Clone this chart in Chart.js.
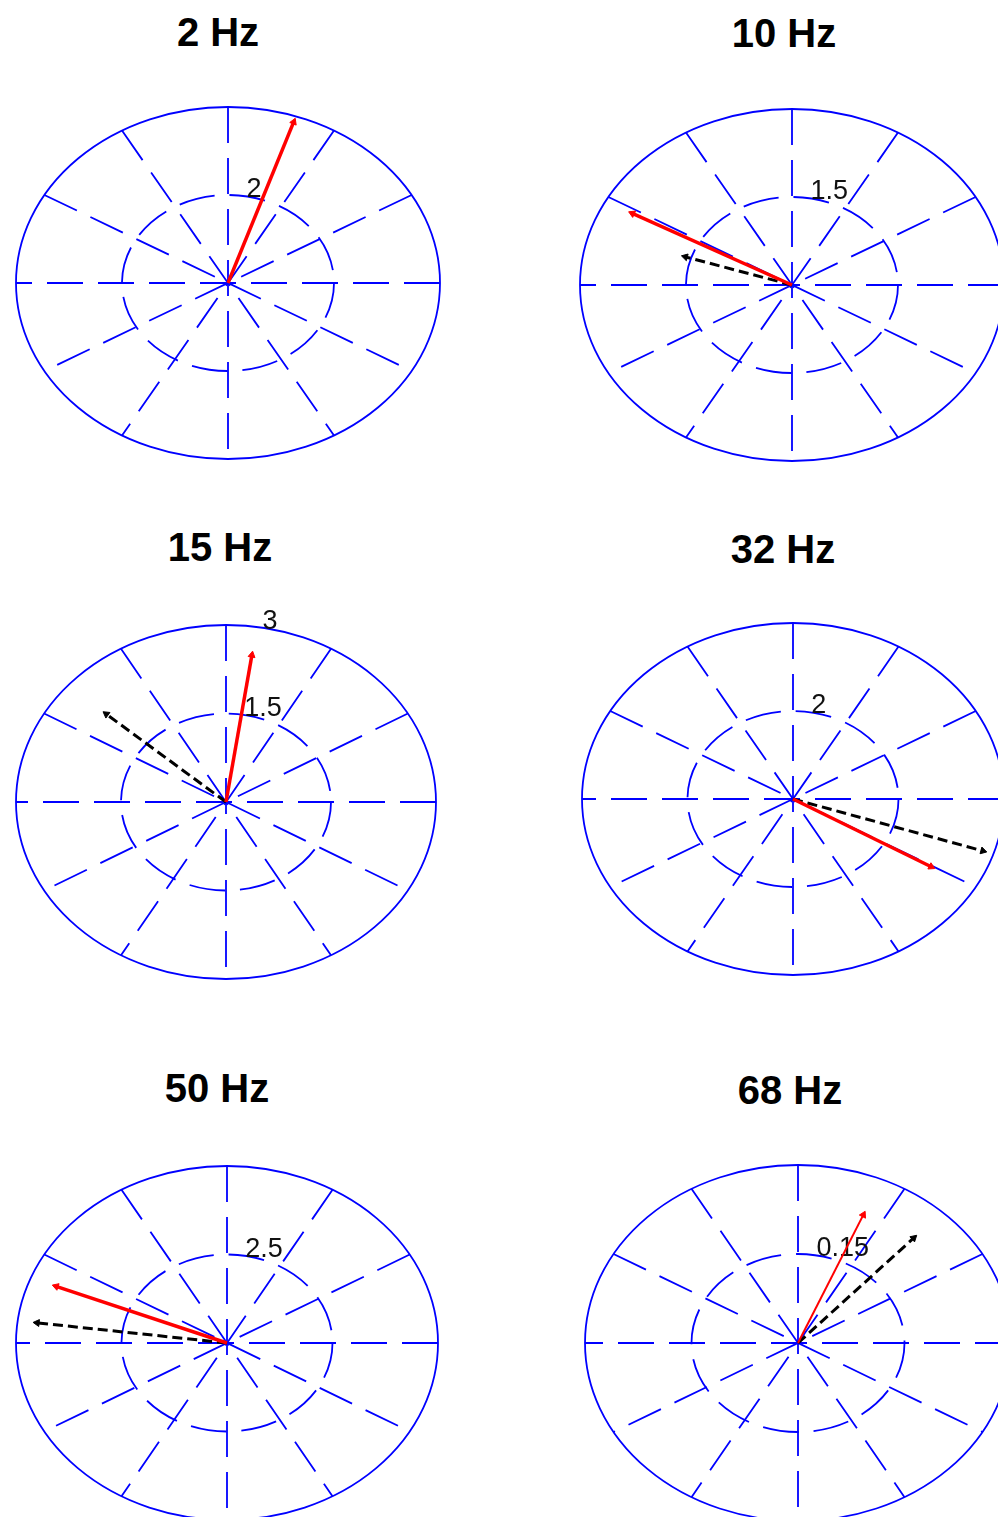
<!DOCTYPE html>
<html>
<head>
<meta charset="utf-8">
<script src="https://cdn.jsdelivr.net/npm/chart.js@4/dist/chart.umd.min.js"></script>
<style>
  html, body { margin: 0; padding: 0; background: #fff; }
  body { position: relative; width: 998px; height: 1517px; overflow: hidden; }
  canvas { position: absolute; }
  .title {
    position: absolute;
    font: bold 40px "Liberation Sans", Arial, sans-serif;
    color: #000;
    transform: translate(-50%, -50%);
    white-space: nowrap;
  }
</style>
</head>
<body>
<script>
// panel data
const titles = ['2 Hz', '10 Hz', '15 Hz', '32 Hz', '50 Hz', '68 Hz'];
const rMax = [4, 3, 3, 4, 5, 0.3];
const ringLabels = [[2], [1.5], [1.5, 3], [2], [2.5], [0.15]];
// solid red vectors (u = east, v = north)
const redU = [1.24, -2.26, 0.37, 2.62, -4.05, 0.092];
const redV = [3.66, 1.22, 2.49, -1.54, 1.60, 0.216];
// dashed black vectors
const blackU = [null, -1.51, -1.71, 3.60, -4.50, 0.163];
const blackV = [null, 0.48, 1.49, -1.18, 0.57, 0.177];

// layout of each panel on the page (pixels)
const panelCx = [228, 792, 226, 793, 227, 798];
const panelCy = [283, 285, 802, 799, 1343, 1343];
const panelRx = [212, 212, 210, 211, 211, 213];
const panelRy = [176, 176, 177, 176, 177, 178];
const titleX = [218, 784, 220, 783, 217, 790];
const titleY = [32, 33, 547, 549, 1088, 1090];

const HALF_W = 235, HALF_H = 200;
const BLUE = '#0000ff';

// polar grid drawn through the chart's own scales
const compassGrid = {
  id: 'compassGrid',
  beforeDatasetsDraw(chart, args, opts) {
    const { ctx } = chart;
    const xs = chart.scales.x, ys = chart.scales.y;
    const R = opts.rmax;
    const cx = xs.getPixelForValue(0), cy = ys.getPixelForValue(0);
    const ex = r => xs.getPixelForValue(r) - cx;
    const ey = r => cy - ys.getPixelForValue(r);

    ctx.save();
    ctx.strokeStyle = BLUE;
    ctx.lineWidth = 1.8;

    // outer ring, solid
    ctx.setLineDash([]);
    ctx.beginPath();
    ctx.ellipse(cx, cy, ex(R), ey(R), 0, 0, Math.PI * 2);
    ctx.stroke();

    // inner ring, dashed
    ctx.setLineDash([36, 15]);
    ctx.beginPath();
    ctx.ellipse(cx, cy, ex(R / 2), ey(R / 2), 0, 0, Math.PI * 2);
    ctx.stroke();

    // spokes every 30 degrees
    for (let k = 0; k < 6; k++) {
      const a = k * Math.PI / 6;
      const x1 = xs.getPixelForValue(R * Math.cos(a)), y1 = ys.getPixelForValue(R * Math.sin(a));
      const x2 = xs.getPixelForValue(-R * Math.cos(a)), y2 = ys.getPixelForValue(-R * Math.sin(a));
      ctx.beginPath();
      ctx.moveTo(x1, y1);
      ctx.lineTo(x2, y2);
      ctx.stroke();
    }

    // ring labels
    ctx.setLineDash([]);
    ctx.fillStyle = '#111';
    ctx.font = '27px "Liberation Sans", Arial, sans-serif';
    ctx.textAlign = 'left';
    ctx.textBaseline = 'alphabetic';
    const la = 80 * Math.PI / 180;
    opts.labels.forEach(r => {
      ctx.fillText(String(r), xs.getPixelForValue(r * Math.cos(la)), ys.getPixelForValue(r * Math.sin(la)) + 1);
    });
    ctx.restore();
  }
};

function headRotation(c) {
  const chart = c.chart;
  const xs = chart.scales.x, ys = chart.scales.y;
  if (!xs || !ys) return 0;
  const d = c.dataset.data[1];
  const dx = xs.getPixelForValue(d.x) - xs.getPixelForValue(0);
  const dy = ys.getPixelForValue(d.y) - ys.getPixelForValue(0);
  return Math.atan2(dx, -dy) * 180 / Math.PI;
}

function vector(u, v, color, width, dash) {
  return {
    data: [{ x: 0, y: 0 }, { x: u, y: v }],
    showLine: true,
    borderColor: color,
    borderWidth: width,
    borderDash: dash,
    pointRadius: [0, 4],
    pointStyle: 'triangle',
    pointRotation: headRotation,
    pointBackgroundColor: color,
    pointBorderColor: color,
    pointBorderWidth: 1,
    clip: false
  };
}

titles.forEach((t, i) => {
  const title = document.createElement('div');
  title.className = 'title';
  title.textContent = t;
  title.style.left = titleX[i] + 'px';
  title.style.top = titleY[i] + 'px';
  document.body.appendChild(title);

  const canvas = document.createElement('canvas');
  canvas.width = HALF_W * 2;
  canvas.height = HALF_H * 2;
  canvas.style.left = (panelCx[i] - HALF_W) + 'px';
  canvas.style.top = (panelCy[i] - HALF_H) + 'px';
  document.body.appendChild(canvas);

  const R = rMax[i];
  const xLim = R * HALF_W / panelRx[i];
  const yLim = R * HALF_H / panelRy[i];

  // first dataset is drawn on top
  const datasets = [vector(redU[i], redV[i], '#ff0000', i === 5 ? 2 : 3.5, [])];
  if (blackU[i] !== null) {
    datasets.push(vector(blackU[i], blackV[i], '#000000', 3, [10, 5]));
  }

  new Chart(canvas, {
    type: 'scatter',
    data: { datasets },
    options: {
      responsive: false,
      animation: false,
      events: [],
      devicePixelRatio: 1,
      layout: { padding: 0, autoPadding: false },
      plugins: {
        legend: { display: false },
        tooltip: { enabled: false },
        compassGrid: { rmax: R, labels: ringLabels[i] }
      },
      scales: {
        x: { type: 'linear', display: false, min: -xLim, max: xLim },
        y: { type: 'linear', display: false, min: -yLim, max: yLim }
      }
    },
    plugins: [compassGrid]
  });
});
</script>
</body>
</html>
